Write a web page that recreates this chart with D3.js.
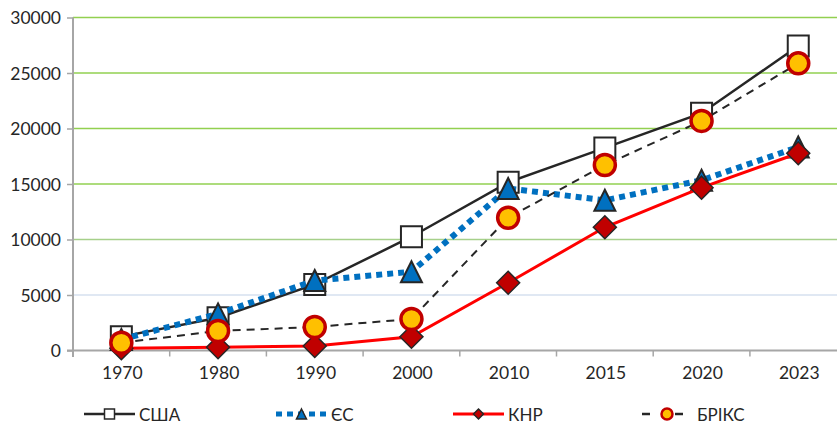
<!DOCTYPE html>
<html>
<head>
<meta charset="utf-8">
<script src="https://cdn.jsdelivr.net/npm/d3@7"></script>
<style>
  body { margin: 0; background: #fff; }
  text { font-family: Lato, "Open Sans", sans-serif; fill: #262626; }
</style>
</head>
<body>
<div id="chart"></div>
<script>
// chart data
var years = ["1970", "1980", "1990", "2000", "2010", "2015", "2020", "2023"];
var usa = [1250, 2950, 5950, 10250, 15150, 18250, 21380, 27430];
var eu = [1000, 3300, 6300, 7100, 14600, 13530, 15340, 18330];
var china = [200, 300, 400, 1240, 6100, 11100, 14670, 17770];
var brics = [700, 1760, 2120, 2840, 11960, 16710, 20680, 25870];
var yTicks = [0, 5000, 10000, 15000, 20000, 25000, 30000];
var seriesNames = ["США", "ЄС", "КНР", "БРІКС"];

var width = 837, height = 425;
var svg = d3.select("#chart").append("svg")
    .attr("width", width)
    .attr("height", height);

var x = d3.scaleBand().domain(years).range([73, 846.6]);
var y = d3.scaleLinear().domain([0, 30000]).range([350.5, 17.5]);

function cx(i) { return x(years[i]) + x.bandwidth() / 2; }

// gridlines
svg.append("g").selectAll("line")
    .data(yTicks.filter(function (d) { return d > 0; }))
    .enter().append("line")
    .attr("x1", 73).attr("x2", width)
    .attr("y1", function (d) { return y(d); })
    .attr("y2", function (d) { return y(d); })
    .attr("stroke", function (d) {
        if (d == 5000) return "#d6e0ef";
        if (d == 10000) return "#a6d08a";
        return "#92d050";
    })
    .attr("stroke-width", 1.5);

// y axis
var yAxis = d3.axisLeft(y).tickValues(yTicks).tickFormat(d3.format("d")).tickSize(6).tickPadding(6);
var gy = svg.append("g").attr("transform", "translate(73,0)").call(yAxis);
gy.select(".domain").remove();
gy.selectAll(".tick line").attr("stroke", "#a6a6a6").attr("stroke-width", 1.5);
gy.selectAll("text").style("font-size", "17.5px").attr("dy", "0.36em");
svg.append("line")
    .attr("x1", 73).attr("x2", 73)
    .attr("y1", y(30000)).attr("y2", 357)
    .attr("stroke", "#a6a6a6").attr("stroke-width", 2);

// x axis
svg.append("line")
    .attr("x1", 67).attr("x2", width)
    .attr("y1", y(0)).attr("y2", y(0))
    .attr("stroke", "#a6a6a6").attr("stroke-width", 2);
svg.append("g").selectAll("line")
    .data(years.slice(1))
    .enter().append("line")
    .attr("x1", function (d) { return x(d); })
    .attr("x2", function (d) { return x(d); })
    .attr("y1", y(0)).attr("y2", y(0) + 6)
    .attr("stroke", "#a6a6a6").attr("stroke-width", 1.5);
svg.append("g").selectAll("text")
    .data(years)
    .enter().append("text")
    .attr("x", function (d) { return x(d) + x.bandwidth() / 2 + 1; })
    .attr("y", 379)
    .attr("text-anchor", "middle")
    .style("font-size", "17.5px")
    .text(function (d) { return d; });

// marker shapes, centred on (0,0)
function squarePath(s) { var h = s / 2; return "M" + (-h) + "," + (-h) + "h" + s + "v" + s + "h" + (-s) + "Z"; }
function trianglePath(s) { var h = s / 2; return "M0," + (-h) + "L" + h + "," + h + "L" + (-h) + "," + h + "Z"; }
function diamondPath(s) { var h = s / 2; return "M0," + (-h) + "L" + h + ",0L0," + h + "L" + (-h) + ",0Z"; }
function circlePath(s) { var r = s / 2; return "M" + r + ",0A" + r + "," + r + " 0 1,1 " + (-r) + ",0A" + r + "," + r + " 0 1,1 " + r + ",0Z"; }

var series = [
    { name: seriesNames[0], values: usa, stroke: "#262626", width: 2.5, dash: null,
      shape: squarePath, size: 21, fill: "#ffffff", mStroke: "#262626", mWidth: 2 },
    { name: seriesNames[1], values: eu, stroke: "#0070c0", width: 6, dash: "6,5",
      shape: trianglePath, size: 21, fill: "#0070c0", mStroke: "#262626", mWidth: 2 },
    { name: seriesNames[2], values: china, stroke: "#ff0000", width: 3, dash: null,
      shape: diamondPath, size: 23, fill: "#c00000", mStroke: "#262626", mWidth: 1.5 },
    { name: seriesNames[3], values: brics, stroke: "#262626", width: 2, dash: "8,6",
      shape: circlePath, size: 21, fill: "#ffc000", mStroke: "#c00000", mWidth: 3.5 }
];

var line = d3.line()
    .x(function (d, i) { return cx(i); })
    .y(function (d) { return y(d); });

series.forEach(function (s) {
    var g = svg.append("g");
    g.append("path")
        .attr("d", line(s.values))
        .attr("fill", "none")
        .attr("stroke", s.stroke)
        .attr("stroke-width", s.width)
        .attr("stroke-dasharray", s.dash);
    g.selectAll("path.marker")
        .data(s.values)
        .enter().append("path")
        .attr("class", "marker")
        .attr("d", s.shape(s.size))
        .attr("transform", function (d, i) { return "translate(" + cx(i) + "," + y(d) + ")"; })
        .attr("fill", s.fill)
        .attr("stroke", s.mStroke)
        .attr("stroke-width", s.mWidth);
});

// legend
var legendX = [84, 276, 453, 642];
var legendY = 414;
series.forEach(function (s, i) {
    var lg = svg.append("g").attr("transform", "translate(" + legendX[i] + "," + legendY + ")");
    if (i == 3) {
        lg.append("line").attr("x1", 0).attr("x2", 8).attr("stroke", s.stroke).attr("stroke-width", 2.5);
        lg.append("line").attr("x1", 33).attr("x2", 41).attr("stroke", s.stroke).attr("stroke-width", 2.5);
    } else {
        lg.append("line").attr("x1", 0).attr("x2", 51)
            .attr("stroke", s.stroke)
            .attr("stroke-width", i == 1 ? 5 : s.width)
            .attr("stroke-dasharray", i == 1 ? "6,5" : null);
    }
    var mx = i == 3 ? 25 : 25.5;
    lg.append("path")
        .attr("d", s.shape(i == 3 ? 11 : 10))
        .attr("transform", "translate(" + mx + ",0)")
        .attr("fill", s.fill)
        .attr("stroke", s.mStroke)
        .attr("stroke-width", i == 3 ? 2.5 : 1.5);
    lg.append("text")
        .attr("x", 55)
        .attr("y", 7)
        .style("font-size", "17px")
        .text(s.name);
});
</script>
</body>
</html>
